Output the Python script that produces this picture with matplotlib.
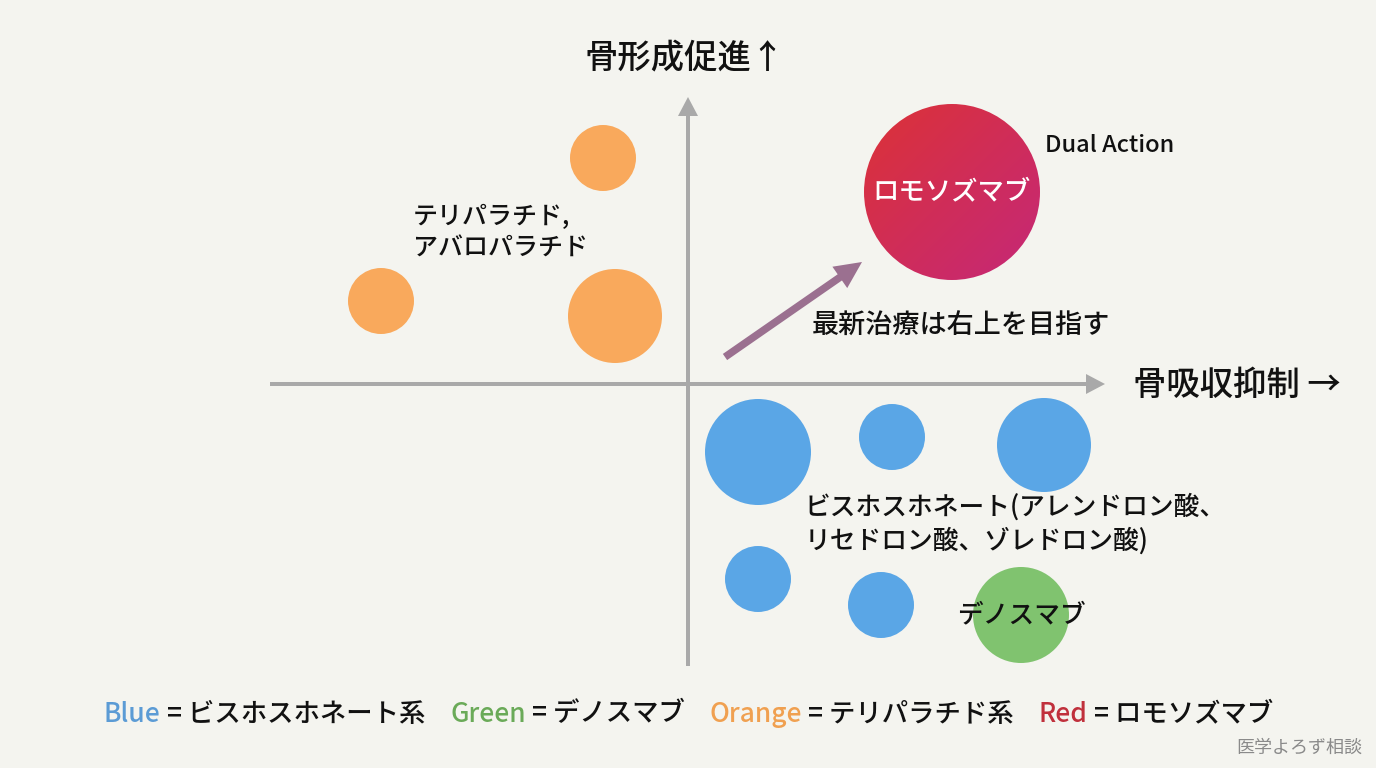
import matplotlib
matplotlib.use("Agg")
import matplotlib.pyplot as plt
import numpy as np
from matplotlib.patches import Circle, FancyArrow
from matplotlib.colors import LinearSegmentedColormap

plt.rcParams['font.family'] = ['Noto Sans CJK JP', 'DejaVu Sans']

# ---- data (x = 骨吸収抑制, y = 骨形成促進, r = bubble size) ----
orange_x = [-0.85, -3.07, -0.73]
orange_y = [2.26, 0.83, 0.68]
orange_r = [0.33, 0.33, 0.47]

blue_x = [0.70, 2.04, 3.56, 0.70, 1.93]
blue_y = [-0.68, -0.53, -0.61, -1.95, -2.21]
blue_r = [0.53, 0.33, 0.47, 0.33, 0.33]

green_x = [3.33]
green_y = [-2.31]
green_r = [0.48]

red_x = [2.64]
red_y = [1.92]
red_r = [0.88]

trend_start = (0.37, 0.27)
trend_end = (1.74, 1.22)

legend_names = ["Blue", "Green", "Orange", "Red"]
legend_desc = ["ビスホスホネート系", "デノスマブ", "テリパラチド系", "ロモソズマブ"]

BG = "#f4f4ef"
C_ORANGE = "#f9a95c"
C_BLUE = "#5aa6e6"
C_GREEN = "#80c36f"
C_AXIS = "#a9a9a9"
C_ARROW = "#9b7090"
legend_colors = ["#5b9bd5", "#6aaa58", "#f0a050", "#c0303c"]
W = 'medium'

fig = plt.figure(figsize=(13.76, 7.68), dpi=100, facecolor=BG)
ax = fig.add_axes([0, 0, 1, 1])
ax.set_facecolor(BG)
ax.set_xlim(-6.88, 6.88)
ax.set_ylim(-3.84, 3.84)
ax.set_aspect('equal')
ax.axis('off')

# axes lines with arrowheads
ax.add_patch(FancyArrow(-4.18, 0, 8.35, 0, width=0.04, head_width=0.2, head_length=0.19,
                        length_includes_head=True, color=C_AXIS, lw=0, zorder=1))
ax.add_patch(FancyArrow(0, -2.82, 0, 5.69, width=0.04, head_width=0.2, head_length=0.19,
                        length_includes_head=True, color=C_AXIS, lw=0, zorder=1))

# bubbles
for xs, ys, rs, c in [(orange_x, orange_y, orange_r, C_ORANGE),
                      (blue_x, blue_y, blue_r, C_BLUE),
                      (green_x, green_y, green_r, C_GREEN)]:
    for x, y, r in zip(xs, ys, rs):
        ax.add_patch(Circle((x, y), r, color=c, lw=0, zorder=2))

# red gradient bubble
cmap = LinearSegmentedColormap.from_list("rg", ["#dc3236", "#d02d58", "#c52878"])
for x, y, r in zip(red_x, red_y, red_r):
    g = np.linspace(0, 1, 200)
    gx, gy = np.meshgrid(g, g[::-1])
    grad = (gx + (1 - gy)) / 2
    im = ax.imshow(grad, cmap=cmap, extent=(x - r, x + r, y - r, y + r),
                   origin='upper', zorder=2, interpolation='bilinear')
    clip = Circle((x, y), r, transform=ax.transData, facecolor='none', lw=0)
    ax.add_patch(clip)
    im.set_clip_path(clip)
ax.set_xlim(-6.88, 6.88)
ax.set_ylim(-3.84, 3.84)

# trend arrow
dx = trend_end[0] - trend_start[0]
dy = trend_end[1] - trend_start[1]
ax.add_patch(FancyArrow(trend_start[0], trend_start[1], dx, dy, width=0.075,
                        head_width=0.26, head_length=0.27, length_includes_head=True,
                        color=C_ARROW, lw=0, zorder=3))

# labels
ax.text(-0.03, 3.26, "骨形成促進↑", fontsize=24, ha='center', va='center', color='#111111', weight=W)
ax.text(4.45, -0.01, "骨吸収抑制 →", fontsize=24, ha='left', va='center', color='#111111', weight=W)
ax.text(3.57, 2.39, "Dual Action", fontsize=17, ha='left', va='center', color='#111111', weight=W)
ax.text(red_x[0], red_y[0], "ロモソズマブ", fontsize=19, ha='center', va='center',
        color='white', zorder=4, weight=W)
ax.text(-2.75, 1.51, "テリパラチド,\nアバロパラチド", fontsize=18, ha='left', va='center',
        color='#111111', linespacing=1.3, weight=W)
ax.text(1.24, 0.58, "最新治療は右上を目指す", fontsize=19.5, ha='left', va='center',
        color='#111111', weight=W)
ax.text(1.17, -1.40, "ビスホスホネート(アレンドロン酸、\nリセドロン酸、ゾレドロン酸)", fontsize=18.5,
        ha='left', va='center', color='#111111', linespacing=1.3, zorder=4, weight=W)
ax.text(green_x[0], green_y[0], "デノスマブ", fontsize=18.5, ha='center', va='center',
        color='#111111', zorder=4, weight=W)
ax.text(6.74, -3.64, "医学よろず相談", fontsize=13, ha='right', va='center', color='#8a8a8a')

# legend line built from pieces
fig.canvas.draw()
renderer = fig.canvas.get_renderer()
xpix = 104
ypix = 768 - 714
for i, (nm, desc, col) in enumerate(zip(legend_names, legend_desc, legend_colors)):
    for s, c in [(nm, col), (" = " + desc, '#111111')]:
        t = fig.text(xpix / 1376, ypix / 768, s, fontsize=19, color=c, ha='left',
                     va='center', weight=W)
        bb = t.get_window_extent(renderer)
        xpix += bb.width
    xpix += 25

fig.savefig("out.png", dpi=100, facecolor=BG)
